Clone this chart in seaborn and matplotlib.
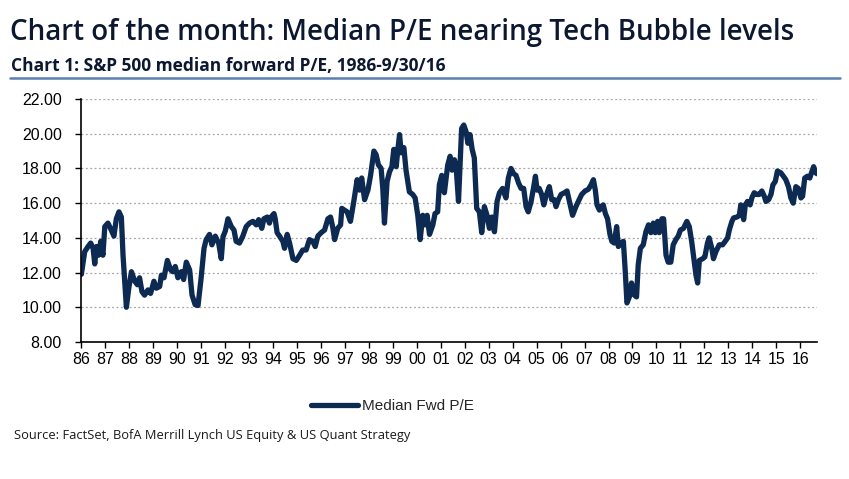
import matplotlib
matplotlib.use("Agg")
import matplotlib.pyplot as plt
import seaborn as sns
import pandas as pd

# Median forward P/E (decimal year, value)
dates = [
    1986.00, 1986.14, 1986.28, 1986.39, 1986.49, 1986.56, 1986.63, 1986.72, 1986.81, 1986.90,
    1986.98, 1987.11, 1987.25, 1987.36, 1987.46, 1987.57, 1987.67, 1987.74, 1987.88, 1987.98,
    1988.09, 1988.23, 1988.34, 1988.43, 1988.53, 1988.64, 1988.78, 1988.89, 1989.03, 1989.13,
    1989.27, 1989.34, 1989.45, 1989.59, 1989.73, 1989.82, 1989.92, 1990.03, 1990.17, 1990.27,
    1990.38, 1990.52, 1990.62, 1990.75, 1990.87, 1991.00, 1991.12, 1991.21, 1991.35, 1991.45,
    1991.59, 1991.73, 1991.84, 1991.91, 1992.01, 1992.12, 1992.26, 1992.37, 1992.46, 1992.60,
    1992.74, 1992.88, 1993.02, 1993.16, 1993.30, 1993.40, 1993.53, 1993.62, 1993.76, 1993.85,
    1993.92, 1994.04, 1994.09, 1994.17, 1994.27, 1994.41, 1994.48, 1994.59, 1994.69, 1994.83,
    1994.97, 1995.11, 1995.24, 1995.38, 1995.52, 1995.66, 1995.76, 1995.87, 1996.01, 1996.15,
    1996.29, 1996.40, 1996.50, 1996.57, 1996.70, 1996.82, 1996.87, 1996.98, 1997.09, 1997.23,
    1997.37, 1997.51, 1997.61, 1997.70, 1997.82, 1997.96, 1998.07, 1998.21, 1998.30, 1998.40,
    1998.51, 1998.58, 1998.65, 1998.76, 1998.86, 1998.96, 1999.04, 1999.14, 1999.21, 1999.28,
    1999.35, 1999.46, 1999.55, 1999.69, 1999.83, 1999.93, 2000.04, 2000.14, 2000.25, 2000.35,
    2000.43, 2000.53, 2000.67, 2000.76, 2000.87, 2000.94, 2001.04, 2001.15, 2001.29, 2001.39,
    2001.47, 2001.57, 2001.64, 2001.74, 2001.82, 2001.87, 2001.96, 2002.06, 2002.13, 2002.22,
    2002.31, 2002.40, 2002.50, 2002.61, 2002.71, 2002.82, 2002.93, 2003.03, 2003.13, 2003.24,
    2003.35, 2003.45, 2003.58, 2003.72, 2003.82, 2003.93, 2004.04, 2004.14, 2004.25, 2004.35,
    2004.46, 2004.56, 2004.65, 2004.77, 2004.88, 2004.95, 2005.02, 2005.11, 2005.21, 2005.30,
    2005.39, 2005.53, 2005.63, 2005.74, 2005.81, 2005.91, 2006.02, 2006.16, 2006.27, 2006.37,
    2006.50, 2006.64, 2006.74, 2006.88, 2007.02, 2007.16, 2007.27, 2007.37, 2007.45, 2007.52,
    2007.62, 2007.69, 2007.78, 2007.87, 2007.96, 2008.06, 2008.14, 2008.24, 2008.34, 2008.41,
    2008.52, 2008.62, 2008.70, 2008.77, 2008.87, 2008.96, 2009.08, 2009.17, 2009.24, 2009.33,
    2009.45, 2009.56, 2009.67, 2009.77, 2009.87, 2009.95, 2010.05, 2010.12, 2010.23, 2010.30,
    2010.40, 2010.49, 2010.60, 2010.70, 2010.81, 2010.91, 2011.00, 2011.13, 2011.27, 2011.37,
    2011.47, 2011.58, 2011.65, 2011.72, 2011.79, 2011.93, 2012.02, 2012.13, 2012.20, 2012.31,
    2012.38, 2012.48, 2012.62, 2012.76, 2012.87, 2012.97, 2013.04, 2013.15, 2013.22, 2013.36,
    2013.46, 2013.52, 2013.64, 2013.71, 2013.80, 2013.91, 2013.98, 2014.08, 2014.19, 2014.29,
    2014.40, 2014.50, 2014.57, 2014.68, 2014.78, 2014.86, 2014.96, 2015.05, 2015.19, 2015.30,
    2015.40, 2015.51, 2015.61, 2015.71, 2015.82, 2015.92, 2016.03, 2016.10, 2016.19, 2016.30,
    2016.40, 2016.47, 2016.56, 2016.65, 2016.69,
]
pe = [
    11.90, 13.20, 13.50, 13.70, 13.40, 12.50, 13.50, 13.00, 13.80, 13.00,
    14.65, 14.85, 14.45, 14.10, 15.10, 15.50, 15.20, 13.00, 10.00, 11.10,
    12.05, 11.50, 11.30, 11.70, 10.90, 10.70, 11.00, 10.80, 11.50, 11.10,
    11.20, 11.85, 11.70, 12.70, 12.15, 12.05, 12.35, 11.70, 12.05, 11.60,
    12.60, 12.15, 10.70, 10.15, 10.10, 11.70, 13.40, 13.90, 14.20, 13.60,
    14.10, 13.70, 12.80, 14.05, 14.40, 15.10, 14.65, 14.45, 13.80, 13.70,
    14.10, 14.65, 14.85, 14.95, 14.75, 15.05, 14.55, 15.10, 15.20, 14.85,
    15.20, 15.40, 15.10, 14.30, 14.10, 13.80, 13.40, 14.20, 13.70, 12.80,
    12.70, 13.00, 13.30, 13.30, 13.90, 13.80, 13.50, 14.10, 14.30, 14.45,
    15.10, 15.20, 14.55, 13.90, 14.55, 14.75, 15.70, 15.60, 15.50, 14.95,
    16.10, 17.35, 16.75, 17.45, 16.20, 16.75, 17.60, 19.00, 18.80, 18.20,
    18.00, 16.85, 14.85, 17.25, 17.80, 18.10, 19.10, 18.10, 19.10, 19.95,
    18.90, 19.20, 17.90, 16.65, 16.50, 16.30, 15.30, 13.90, 15.30, 14.75,
    15.30, 14.20, 14.75, 15.40, 15.50, 17.05, 17.60, 16.60, 18.20, 18.70,
    17.90, 18.50, 18.10, 16.10, 18.60, 20.30, 20.50, 20.10, 19.45, 19.95,
    19.10, 18.60, 15.70, 15.50, 14.30, 15.80, 15.30, 14.55, 15.20, 14.35,
    16.10, 16.60, 16.85, 16.30, 17.45, 18.00, 17.70, 17.60, 17.15, 16.85,
    16.85, 15.80, 15.50, 16.10, 16.95, 17.55, 16.75, 16.85, 16.50, 15.90,
    16.40, 16.95, 16.20, 16.20, 15.80, 16.20, 16.50, 16.60, 16.70, 16.10,
    15.30, 15.80, 16.10, 16.50, 16.70, 16.80, 17.05, 17.35, 16.75, 15.90,
    15.60, 15.80, 15.90, 15.40, 15.10, 14.20, 13.80, 13.70, 14.65, 13.50,
    13.70, 13.80, 12.05, 10.25, 10.60, 11.40, 10.70, 10.60, 12.45, 13.40,
    13.60, 14.35, 14.75, 14.30, 14.85, 14.30, 14.95, 14.30, 15.10, 15.10,
    13.00, 12.60, 12.60, 13.60, 13.90, 14.10, 14.45, 14.55, 14.95, 14.65,
    13.80, 12.60, 11.85, 11.40, 12.70, 12.80, 12.90, 13.70, 14.00, 13.40,
    12.80, 13.20, 13.60, 13.60, 13.80, 14.00, 14.45, 14.95, 15.15, 15.20,
    15.30, 15.90, 15.05, 15.90, 16.10, 15.90, 16.30, 16.60, 16.50, 16.50,
    16.70, 16.40, 16.10, 16.20, 16.50, 17.05, 17.25, 17.85, 17.75, 17.55,
    17.35, 16.95, 16.30, 16.00, 16.95, 16.85, 16.30, 16.40, 17.45, 17.55,
    17.45, 17.75, 18.10, 17.75, 17.70,
]

year_ticks = list(range(1986, 2017))
year_labels = [f"{y % 100:02d}" for y in year_ticks]
pe_ticks = [8, 10, 12, 14, 16, 18, 20, 22]

df = pd.DataFrame({"date": dates, "pe": pe})

navy = "#0c2a52"
ink = "#0b1830"

sns.set_style("white")
plt.rcParams["font.family"] = ["Liberation Sans", "DejaVu Sans"]

fig = plt.figure(figsize=(8.49, 4.79), dpi=100)
ax = fig.add_axes([0.0958, 0.286, 0.8662, 0.5073])

sns.lineplot(data=df, x="date", y="pe", ax=ax, color=navy, linewidth=3.8,
             label="Median Fwd P/E", legend=False, solid_joinstyle="round")

ax.set_xlim(1986, 2016.69)
ax.set_ylim(8, 22)
ax.set_xticks(year_ticks)
ax.set_xticklabels(year_labels)
ax.set_yticks(pe_ticks)
ax.set_yticklabels([f"{v:.2f}" for v in pe_ticks])
ax.set_xlabel("")
ax.set_ylabel("")

# dotted horizontal gridlines
for v in pe_ticks[1:]:
    ax.axhline(v, color="#a6a6a6", linewidth=0.9, linestyle=(0, (1.5, 2)), zorder=0)

for side in ["top", "right"]:
    ax.spines[side].set_visible(False)
for side in ["left", "bottom"]:
    ax.spines[side].set_color("black")
    ax.spines[side].set_linewidth(1.2)

ax.tick_params(axis="y", direction="out", length=4, width=1, color="black",
               pad=10, labelsize=11.5, labelcolor="black")
ax.tick_params(axis="x", direction="out", length=4, width=1, color="black",
               pad=3, labelsize=11.5, labelcolor="black")
ax.tick_params(left=True, bottom=True)

# legend under the plot
handles, labels = ax.get_legend_handles_labels()
fig.legend(handles, labels, loc="center", bbox_to_anchor=(0.462, 0.152),
           frameon=False, fontsize=11, handlelength=3.1, handletextpad=0.25)

# titles
fig.text(10 / 849, 1 - 40 / 479, "Chart of the month: Median P/E nearing Tech Bubble levels",
         family=["Open Sans", "DejaVu Sans"], fontsize=20, fontweight="semibold", color=ink,
         va="baseline", ha="left")
fig.text(11 / 849, 1 - 71 / 479, "Chart 1: S&P 500 median forward P/E, 1986-9/30/16",
         family=["Open Sans", "DejaVu Sans"], fontsize=12.5, fontweight="bold", color=ink,
         va="baseline", ha="left")
fig.add_artist(plt.Line2D([10 / 849, 840 / 849], [1 - 77.5 / 479, 1 - 77.5 / 479],
                          color="#5b80b0", linewidth=1.8, transform=fig.transFigure))

fig.text(14 / 849, 1 - 435 / 479, "Source: FactSet, BofA Merrill Lynch US Equity & US Quant Strategy",
         family=["Open Sans", "DejaVu Sans"], fontsize=9.3, color="#1a1a1a", va="center", ha="left")

fig.savefig("out.png", dpi=100)
